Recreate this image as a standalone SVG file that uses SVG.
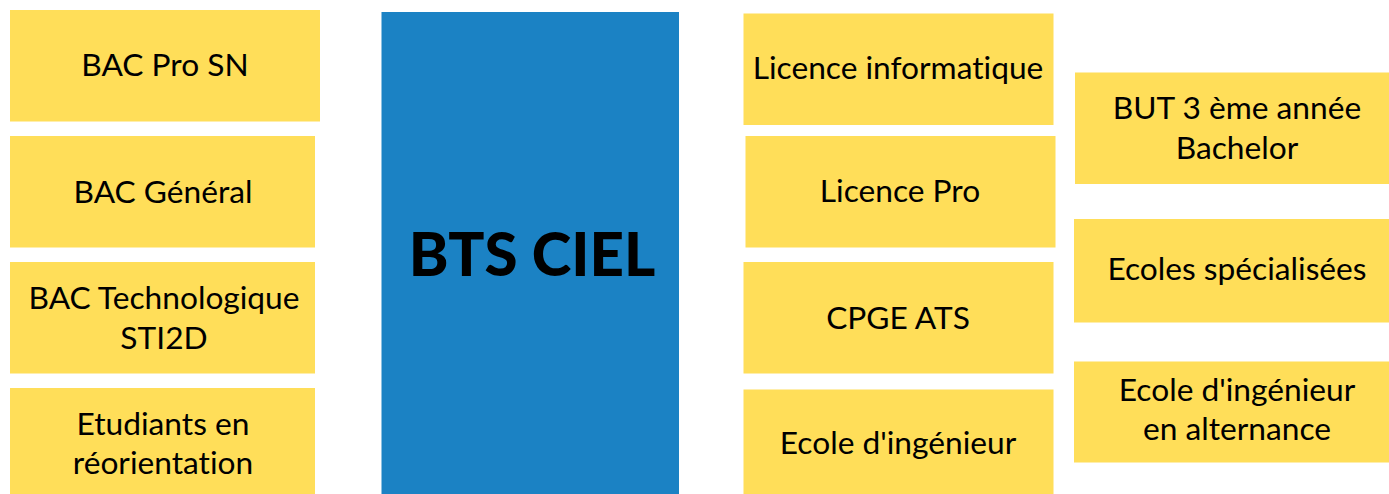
<svg xmlns="http://www.w3.org/2000/svg" width="1389" height="494" viewBox="0 0 1389 494">
<style>
.box{fill:#FFDE59}
.main{fill:#1B82C4}
.t{font-family:Lato,"Liberation Sans",sans-serif;font-size:31.7px;fill:#000;text-anchor:middle;font-variant-ligatures:none}
.big{font-family:Lato,"Liberation Sans",sans-serif;font-size:60px;font-weight:900;fill:#000;text-anchor:middle}
</style>
<rect width="1389" height="494" fill="#fff"/>
<g id="bac-pro-sn"><rect class="box" x="10" y="10" width="310" height="111.5"/><text class="t" x="165" y="76">BAC Pro SN</text></g>
<g id="bac-general"><rect class="box" x="10" y="136" width="305" height="111.5"/><text class="t" x="163" y="202.5">BAC Général</text></g>
<g id="bac-techno"><rect class="box" x="10" y="262" width="305" height="111.5"/><text class="t" x="164" y="308.5">BAC Technologique</text><text class="t" x="164" y="348.5">STI2D</text></g>
<g id="etudiants"><rect class="box" x="10" y="388" width="305" height="106"/><text class="t" x="163" y="434.5">Etudiants en</text><text class="t" x="163" y="473.5">réorientation</text></g>
<g id="bts-ciel"><rect class="main" x="381.5" y="12" width="297.5" height="482"/><text class="big" x="532" y="276">BTS CIEL</text></g>
<g id="licence-info"><rect class="box" x="743.5" y="13.5" width="310" height="111.5"/><text class="t" x="898" y="79">Licence informatique</text></g>
<g id="licence-pro"><rect class="box" x="745.5" y="136" width="310" height="111.5"/><text class="t" x="900" y="201.5">Licence Pro</text></g>
<g id="cpge-ats"><rect class="box" x="743.5" y="262" width="310" height="111.5"/><text class="t" x="898" y="328.5">CPGE ATS</text></g>
<g id="ecole-ing"><rect class="box" x="743.5" y="389.5" width="310" height="104.5"/><text class="t" x="898" y="453.5">Ecole d'ingénieur</text></g>
<g id="but3"><rect class="box" x="1075" y="72.5" width="314" height="111.5"/><text class="t" x="1237" y="118.5">BUT 3 ème année</text><text class="t" x="1237" y="158.5">Bachelor</text></g>
<g id="ecoles-spe"><rect class="box" x="1074" y="219" width="315" height="103.5"/><text class="t" x="1237" y="280">Ecoles spécialisées</text></g>
<g id="ecole-alt"><rect class="box" x="1074" y="361.5" width="315" height="101"/><text class="t" x="1237" y="400.5">Ecole d'ingénieur</text><text class="t" x="1237" y="440">en alternance</text></g>
<g id="connectors"/>
</svg>
